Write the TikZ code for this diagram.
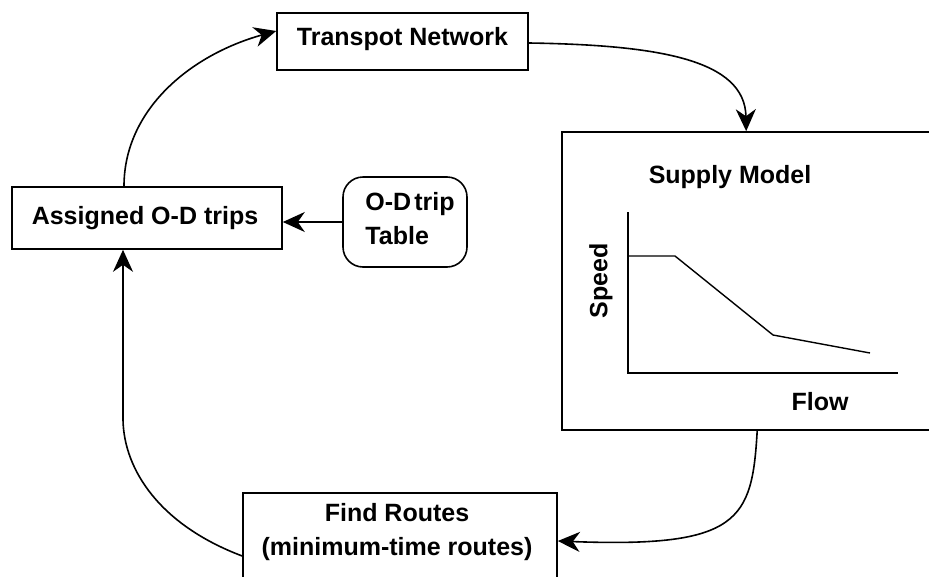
\documentclass[tikz,border=0pt]{standalone}
\usepackage{fontspec}
\setmainfont{Liberation Sans}
\usetikzlibrary{arrows.meta}
\tikzset{
  box/.style={draw, line width=1.6pt, rectangle, inner sep=0pt},
  rbox/.style={draw, line width=1.6pt, rectangle, rounded corners=20pt, inner sep=0pt},
  lbl/.style={font=\bfseries\fontsize{25}{34}\selectfont, align=center, inner sep=0pt},
  conn/.style={line width=1.6pt, -{Stealth[length=22pt,width=20pt,inset=7pt]}},
  axis/.style={line width=1.6pt},
}
\begin{document}
\begin{tikzpicture}[x=1pt,y=-1pt]
\clip (0,0) rectangle (929,576);
\fill[white] (0,0) rectangle (929,576);
% nodes
\node[box, minimum width=251pt, minimum height=57pt] (tn) at (402.5,41.5) {};
\node[lbl] (tnt) at (402.5,39) {Transpot Network};
\node[box, minimum width=373pt, minimum height=298pt] (sm) at (748.5,281) {};
\node[lbl] (smt) at (730,177) {Supply Model};
\node[lbl, rotate=90] (spd) at (601,281) {Speed};
\node[lbl] (flw) at (820,402) {Flow};
\node[box, minimum width=270pt, minimum height=62pt] (ad) at (147,218) {};
\node[lbl] (adt) at (145,218) {Assigned O-D trips};
\node[rbox, minimum width=124pt, minimum height=90pt] (od) at (405,222) {};
\node[lbl, align=left] (odt) at (410,219) {O-D\kern3pt trip\\Table};
\node[box, minimum width=314pt, minimum height=107pt] (fr) at (400,546.5) {};
\node[lbl] (frt) at (397,532) {Find Routes\\(minimum-time routes)};
% graph
\draw[axis] (628,212) -- (628,373) -- (898,373);
\draw[line width=1.4pt] (628,256) -- (675,256) -- (773,335) -- (870,353);
% connectors
\draw[conn] ([yshift=-1.5pt]tn.east) .. controls (660,45) and (745,60) .. ([xshift=185pt]sm.north west);
\draw[conn] ([xshift=196pt]sm.south west) .. controls (752,520) and (740,548) .. ([yshift=5.5pt]fr.east);
\draw[conn] ([yshift=-9.5pt]fr.west) .. controls (160,525) and (124,470) .. (123,420) -- ([xshift=-24pt]ad.south);
\draw[conn] ([xshift=-23pt]ad.north) .. controls (124,110) and (190,55) .. ([yshift=10.5pt]tn.west);
\draw[conn] (od.west) -- (od.west -| ad.east);
\end{tikzpicture}
\end{document}
